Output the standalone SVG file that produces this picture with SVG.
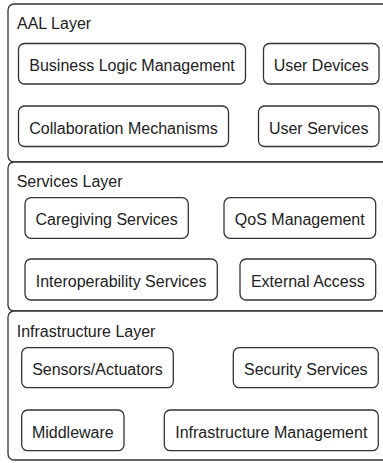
<svg xmlns="http://www.w3.org/2000/svg" width="383" height="463" viewBox="0 0 383 463">
<style>
.layer{fill:#fff;stroke:#333;stroke-width:1.3}
.box{fill:#fff;stroke:#333;stroke-width:1.3}
text{font-family:"Liberation Sans",Arial,sans-serif;font-size:16px;fill:#222}
.c{text-anchor:middle}
</style>
<rect width="383" height="463" fill="#fff"/>
<g id="aal-layer">
<rect class="layer" x="8" y="4" width="390" height="158" rx="6"/>
<text x="17" y="28.5">AAL Layer</text>
</g>
<g id="business-logic">
<rect class="box" x="18.5" y="43.5" width="227" height="40.5" rx="6"/>
<text class="c" x="132" y="71">Business Logic Management</text>
</g>
<g id="user-devices">
<rect class="box" x="263.5" y="43.5" width="115.5" height="40.5" rx="6"/>
<text class="c" x="321.2" y="71">User Devices</text>
</g>
<g id="collaboration">
<rect class="box" x="18.5" y="106" width="210" height="40.5" rx="6"/>
<text class="c" x="123.5" y="133.5">Collaboration Mechanisms</text>
</g>
<g id="user-services">
<rect class="box" x="258.5" y="106" width="120.5" height="40.5" rx="6"/>
<text class="c" x="318.7" y="133.5">User Services</text>
</g>
<g id="services-layer">
<rect class="layer" x="8" y="162" width="390" height="149" rx="6"/>
<text x="16.7" y="186.7">Services Layer</text>
</g>
<g id="caregiving">
<rect class="box" x="25" y="197.7" width="163.3" height="40.6" rx="6"/>
<text class="c" x="106.6" y="225.3">Caregiving Services</text>
</g>
<g id="qos">
<rect class="box" x="224" y="197.7" width="151.7" height="40.6" rx="6"/>
<text class="c" x="299.8" y="225.3">QoS Management</text>
</g>
<g id="interoperability">
<rect class="box" x="25" y="259" width="192.3" height="41" rx="6"/>
<text class="c" x="121.1" y="286.8">Interoperability Services</text>
</g>
<g id="external-access">
<rect class="box" x="240" y="259" width="135.7" height="41" rx="6"/>
<text class="c" x="307.8" y="286.8">External Access</text>
</g>
<g id="infrastructure-layer">
<rect class="layer" x="8" y="311" width="390" height="149" rx="6"/>
<text x="16.7" y="336.7">Infrastructure Layer</text>
</g>
<g id="sensors">
<rect class="box" x="21.7" y="347.7" width="151.6" height="40" rx="6"/>
<text class="c" x="97.5" y="375">Sensors/Actuators</text>
</g>
<g id="security">
<rect class="box" x="233.3" y="347.7" width="145" height="40" rx="6"/>
<text class="c" x="305.8" y="375">Security Services</text>
</g>
<g id="middleware">
<rect class="box" x="21.7" y="410" width="102.3" height="40.7" rx="6"/>
<text class="c" x="72.8" y="437.6">Middleware</text>
</g>
<g id="infra-management">
<rect class="box" x="164.3" y="410" width="214" height="40.7" rx="6"/>
<text class="c" x="271.3" y="437.6">Infrastructure Management</text>
</g>
<g id="connectors"></g>
</svg>
